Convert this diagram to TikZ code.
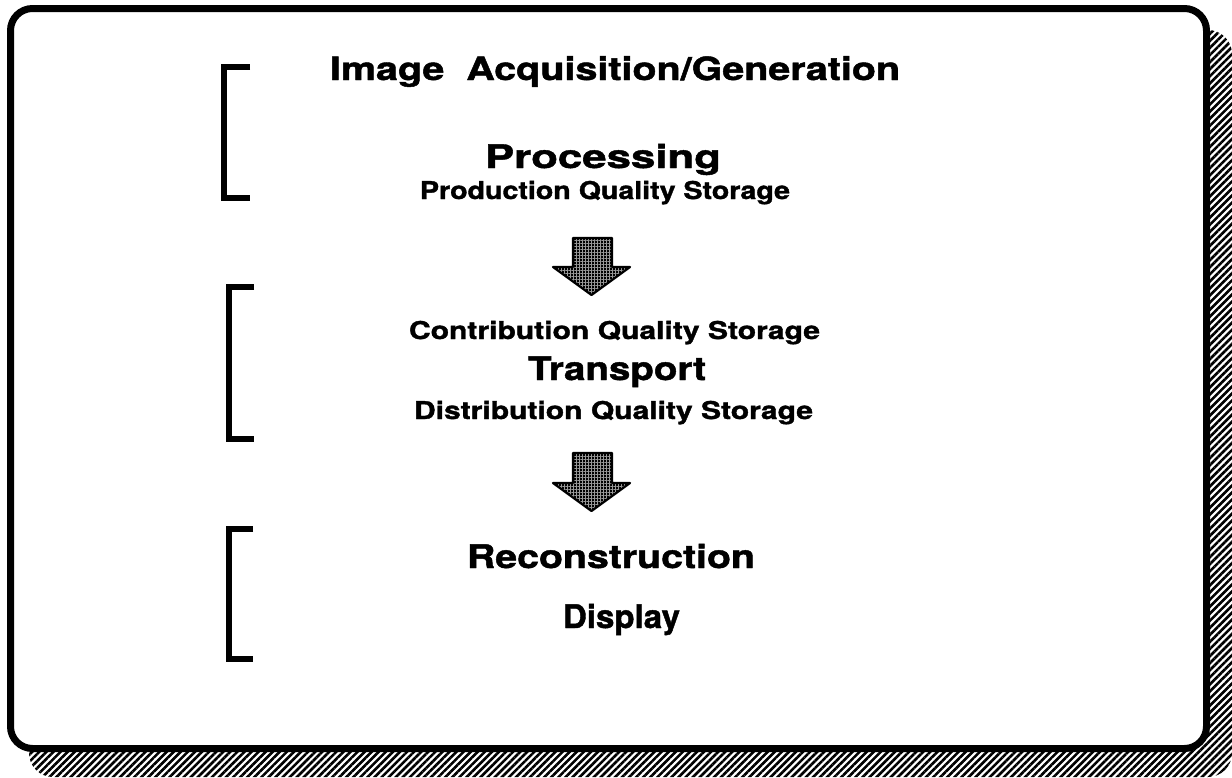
\documentclass[tikz,border=0pt]{standalone}
\usepackage{fontspec}
\setmainfont{TeX Gyre Heros}[BoldFeatures={FakeBold=1.3}]
\usetikzlibrary{patterns.meta}

% bold label of a given width (pt) and font size (pt), natural height kept
\newcommand{\wline}[3]{\resizebox{#1pt}{\height}{\fontsize{#2}{#2}\selectfont\bfseries #3}}

\tikzset{
  lbl/.style={inner sep=0pt, outer sep=0pt, anchor=base west},
  bracketline/.style={line width=6pt, line cap=butt, line join=miter},
  blockarrow/.style={preaction={fill=black},
    pattern={Hatch[angle=0,distance=3pt,line width=0.5pt]},
    pattern color=white!60!black, draw=black, line width=2.2pt, line join=round},
  shadowbox/.style={pattern={Lines[angle=45,distance=5pt,line width=2.6pt]}, pattern color=black},
  framebox/.style={draw=black, fill=white, line width=7pt, rounded corners=22pt}
}

\begin{document}
\begin{tikzpicture}[x=1pt,y=-1pt]
\useasboundingbox (0,0) rectangle (1232,777);

% hatched drop shadow and the rounded frame
\fill[shadowbox, rounded corners=24pt] (29,30) rectangle (1232,777);
\draw[framebox] (10.5,8.5) rectangle (1206.5,748.5);

% brackets
\draw[bracketline] (250,67) -- (224,67) -- (224,198) -- (250,198);
\draw[bracketline] (254,287) -- (229,287) -- (229,439) -- (254,439);
\draw[bracketline] (253,529) -- (229,529) -- (229,659) -- (253,659);

% stage labels
\node[lbl] (acq)  at (330,80)  {\wline{570}{32}{Image\ \ Acquisition/Generation}};
\node[lbl] (proc) at (485,168) {\wline{236}{32.5}{Processing}};
\node[lbl] (pqs)  at (420,199) {\wline{370}{24.5}{Production\ Quality\ Storage}};
\node[lbl] (cqs)  at (409,339) {\wline{411}{24.5}{Contribution\ Quality\ Storage}};
\node[lbl] (trn)  at (528,380) {\wline{178}{32.5}{Transport}};
\node[lbl] (dqs)  at (414,419) {\wline{399}{24.5}{Distribution\ Quality\ Storage}};
\node[lbl] (rec)  at (467,568) {\wline{288}{32.5}{Reconstruction}};
\node[lbl] (disp) at (563,628) {\wline{117}{32.5}{Display}};

% block arrows between stages
\path[blockarrow] (573,238) -- (612,238) -- (612,267) -- (630,267) -- (591.5,295)
  -- (553,267) -- (573,267) -- cycle;
\path[blockarrow] (573,453) -- (612,453) -- (612,483) -- (630,483) -- (591.5,511)
  -- (553,483) -- (573,483) -- cycle;
\end{tikzpicture}
\end{document}
